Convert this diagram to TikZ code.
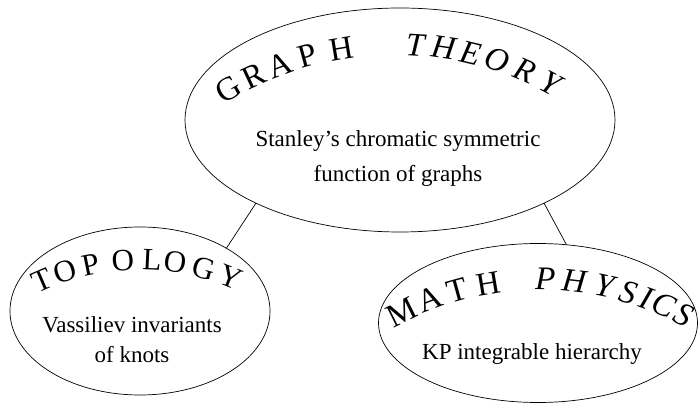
\documentclass[tikz,border=0pt]{standalone}
\usepackage{fontspec}
\setmainfont{Liberation Serif}
\usetikzlibrary{shapes.geometric}

\begin{document}
\begin{tikzpicture}
  [x=1pt,y=1pt,line width=0.7pt,
   bubble/.style={ellipse,draw=black,inner sep=0pt,outer sep=0pt},
   body/.style={anchor=base,inner sep=0pt,font=\fontsize{23}{28}\selectfont},
   arcletter/.style={anchor=base,inner sep=0pt}]
  \useasboundingbox (0,0) rectangle (699,404);

  \node[bubble,minimum width=430pt,minimum height=224pt] (graph) at (400,284) {};
  \node[bubble,minimum width=260pt,minimum height=168pt] (topo) at (140,93) {};
  \node[bubble,minimum width=319pt,minimum height=159pt] (phys) at (538,81) {};

  \coordinate (graphc) at (395,29);
  \coordinate (topoc) at (140,-102);
  \coordinate (physc) at (540,-186);

  \foreach \ch/\a [count=\i] in {G/120.2,R/115.2,A/110.3,P/105.3,H/99.3}
    \node[arcletter,font=\fontsize{33}{38}\selectfont,rotate=\a-90] (gw\i) at ([shift={(\a:320)}]graphc) {\ch};
  \foreach \ch/\a [count=\i] in {T/86.5,H/81.5,E/76.8,O/72,R/66.9,Y/62}
    \node[arcletter,font=\fontsize{33}{38}\selectfont\itshape,rotate=\a-90] (tw\i) at ([shift={(\a:320)}]graphc) {\ch};

  \foreach \ch/\a [count=\i] in {T/113.5,O/107.6,P/101.5,O/94,L/87.2,O/81.8,G/75,Y/68.3}
    \node[arcletter,font=\fontsize{31}{36}\selectfont,rotate=\a-90] (tp\i) at ([shift={(\a:236)}]topoc) {\ch};

  \foreach \ch/\a [count=\i] in {M/116.5,A/110.8,T/105.5,H/99.5}
    \node[arcletter,font=\fontsize{33}{38}\selectfont,rotate=\a-90] (mw\i) at ([shift={(\a:300)}]physc) {\ch};
  \foreach \ch/\a [count=\i] in {P/89,H/83.6,Y/78,S/73.4,I/70,C/66.6,S/62.4}
    \node[arcletter,font=\fontsize{33}{38}\selectfont\itshape,rotate=\a-90] (pw\i) at ([shift={(\a:300)}]physc) {\ch};

  \node[body] (stanley) at (398,257) {Stanley's chromatic symmetric};
  \node[body] (funcs) at (398,222) {function of graphs};
  \node[body] (vass) at (132,71) {Vassiliev invariants};
  \node[body] (knots) at (132,41) {of knots};
  \node[body] (kp) at (532,44) {KP integrable hierarchy};

  \draw (graph.210) -- (topo.36);
  \draw (graph.330) -- (phys.70);

\end{tikzpicture}
\end{document}
